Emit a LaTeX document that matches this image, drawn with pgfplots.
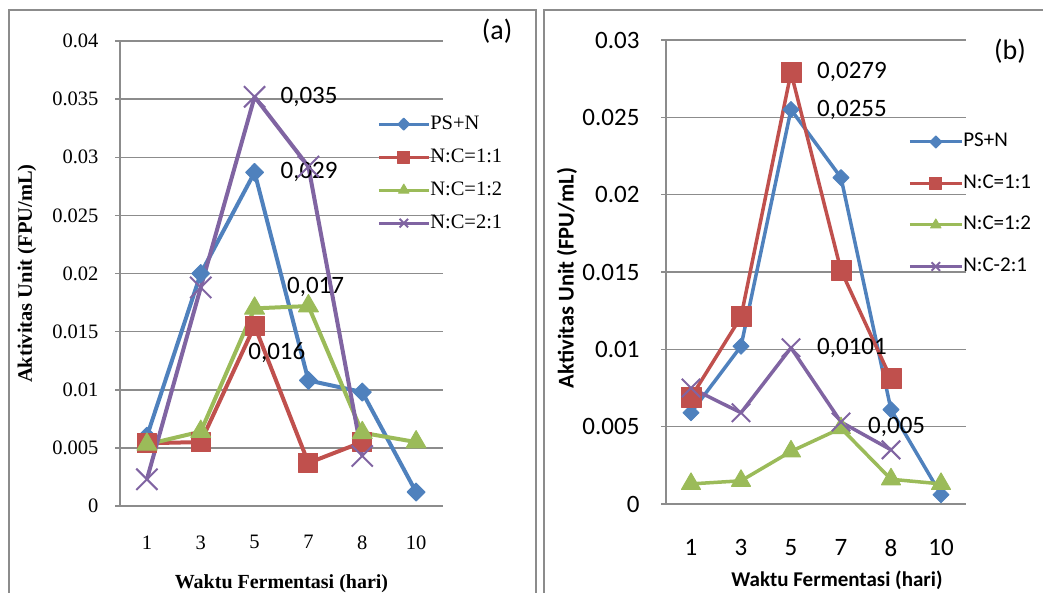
\documentclass[border=0pt]{standalone}
\usepackage{fontspec}
\setmainfont{Liberation Serif}
\newfontfamily\carl{Carlito}
\usepackage{pgfplots}
\pgfplotsset{compat=1.18}
\definecolor{cb}{HTML}{4F81BD}
\definecolor{cr}{HTML}{C0504D}
\definecolor{cg}{HTML}{9BBB59}
\definecolor{cp}{HTML}{8064A2}
\definecolor{gridc}{HTML}{8C8C8C}
\pgfplotsset{
 panel/.style={scale only axis, xmin=-0.5, xmax=5.5, ymin=0,
  xtick={0,1,2,3,4,5}, xticklabels={1,3,5,7,8,10},
  axis lines=left, axis line style={-, draw=gridc, line width=1.5pt},
  ymajorgrids, grid style={draw=gridc, line width=1.5pt},
  major x tick style={draw=none}, major y tick style={draw=gridc, line width=1.5pt},
  tick align=outside, major tick length=5pt, scaled y ticks=false,
  yticklabel style={/pgf/number format/fixed, /pgf/number format/precision=4},
  /pgf/number format/assume math mode=true, clip=false,
  legend cell align=left,
  every axis plot/.append style={line join=round},
 },
}
\begin{document}
\begin{tikzpicture}
\useasboundingbox (0,0) rectangle (1043pt,592pt);
\draw[gridc, line width=2.2pt] (9pt,-20pt) -- (9pt,582pt) -- (536pt,582pt) -- (536pt,-20pt);
\draw[gridc, line width=2.2pt] (544pt,-20pt) -- (544pt,582pt) -- (1070pt,582pt);
% ---------------- panel (a)
\begin{axis}[panel, at={(120pt,86pt)}, anchor=south west, width=323pt, height=465pt,
  ymax=0.04, ytick={0,0.005,0.01,0.015,0.02,0.025,0.03,0.035,0.04},
  tick label style={font=\fontsize{20.5}{22}\selectfont},
  yticklabel style={xshift=-13pt},
  xticklabel style={yshift=-21pt},
  xlabel={\bfseries Waktu Fermentasi (hari)},
  xlabel style={font=\fontsize{20}{22}\selectfont, at={(axis description cs:0.5,-0.166)}, anchor=center},
  ylabel={\bfseries Aktivitas Unit (FPU/mL)},
  ylabel style={font=\fontsize{20.5}{22}\selectfont, at={(axis description cs:-0.288,0.5)}, anchor=center},
  legend style={at={(0.796,0.841)}, anchor=north west, draw=none, fill=none, inner sep=0pt,
    font=\fontsize{20.5}{22}\selectfont, row sep=15pt,
    nodes={inner sep=0pt, text height=14pt, text depth=4pt},
    /tikz/every even column/.append style={column sep=5pt}},
  legend image code/.code={\draw[#1, line width=3pt, mark size=6pt, mark repeat=2, mark phase=2] plot coordinates {(0pt,0pt) (25pt,0pt) (50pt,0pt)};},
]
\addplot[cb, line width=4pt, mark=diamond*, mark size=9pt, mark options={xscale=1.33, line width=1pt, fill=cb}]
 coordinates {(0,0.0060) (1,0.0200) (2,0.0287) (3,0.0108) (4,0.0098) (5,0.0012)};
\addlegendentry{PS+N}
\addplot[cr, line width=4pt, mark=square*, mark size=9.5pt, mark options={line width=1pt, fill=cr}]
 coordinates {(0,0.0054) (1,0.0055) (2,0.0155) (3,0.0037) (4,0.0055)};
\addlegendentry{N:C=1:1}
\addplot[cg, line width=4pt, mark=triangle*, mark size=11.5pt, mark options={line width=1pt, fill=cg}]
 coordinates {(0,0.0053) (1,0.0064) (2,0.0170) (3,0.0172) (4,0.0063) (5,0.0055)};
\addlegendentry{N:C=1:2}
\addplot[cp, line width=4pt, mark=x, mark size=15pt, mark options={line width=2pt}]
 coordinates {(0,0.0023) (1,0.0188) (2,0.0352) (3,0.0292) (4,0.0043)};
\addlegendentry{N:C=2:1}
\begin{scope}[every node/.style={anchor=west, inner sep=0pt, font=\carl\fontsize{25}{27}\selectfont}]
\node at (axis cs:2.48,0.0352) {0,035};
\node at (axis cs:2.48,0.0287) {0,029};
\node at (axis cs:2.60,0.0188) {0,017};
\node at (axis cs:1.88,0.0132) {0,016};
\end{scope}
\node[anchor=east, inner sep=0pt, font=\carl\fontsize{28}{30}\selectfont] at (rel axis cs:1.215,1.02) {(a)};
\end{axis}
% ---------------- panel (b)
\begin{axis}[panel, at={(666pt,88pt)}, anchor=south west, width=300pt, height=464pt,
  ymax=0.03, ytick={0,0.005,0.01,0.015,0.02,0.025,0.03},
  tick label style={font=\carl\fontsize{25}{27}\selectfont},
  yticklabel style={xshift=-18pt},
  xticklabel style={yshift=-27pt},
  xlabel={\bfseries Waktu Fermentasi (hari)},
  xlabel style={font=\carl\fontsize{21}{23}\selectfont, at={(axis description cs:0.57,-0.164)}, anchor=center},
  ylabel={\bfseries Aktivitas Unit (FPU/mL)},
  ylabel style={font=\carl\fontsize{22.5}{24}\selectfont, at={(axis description cs:-0.33,0.487)}, anchor=center},
  legend style={at={(0.807,0.800)}, anchor=north west, draw=none, fill=none, inner sep=0pt,
    font=\carl\fontsize{21}{23}\selectfont, row sep=23.5pt,
    nodes={inner sep=0pt, text height=14pt, text depth=4pt},
    /tikz/every even column/.append style={column sep=6pt}},
  legend image code/.code={\draw[#1, line width=3pt, mark size=6pt, mark repeat=2, mark phase=2] plot coordinates {(0pt,0pt) (26pt,0pt) (52pt,0pt)};},
]
\addplot[cb, line width=3.5pt, mark=diamond*, mark size=8pt, mark options={xscale=1.33, line width=1pt, fill=cb}]
 coordinates {(0,0.0059) (1,0.0102) (2,0.0255) (3,0.0211) (4,0.0061) (5,0.0006)};
\addlegendentry{PS+N}
\addplot[cr, line width=3.5pt, mark=square*, mark size=10pt, mark options={line width=1pt, fill=cr}]
 coordinates {(0,0.0069) (1,0.0121) (2,0.0279) (3,0.0151) (4,0.0081)};
\addlegendentry{N:C=1:1}
\addplot[cg, line width=3.5pt, mark=triangle*, mark size=11pt, mark options={line width=1pt, fill=cg}]
 coordinates {(0,0.0013) (1,0.0015) (2,0.0034) (3,0.0049) (4,0.0016) (5,0.0013)};
\addlegendentry{N:C=1:2}
\addplot[cp, line width=3.5pt, mark=x, mark size=13pt, mark options={line width=2pt}]
 coordinates {(0,0.0075) (1,0.0059) (2,0.0101) (3,0.0053) (4,0.0035)};
\addlegendentry{N:C-2:1}
\begin{scope}[every node/.style={anchor=west, inner sep=0pt, font=\carl\fontsize{25}{27}\selectfont}]
\node at (axis cs:2.52,0.0279) {0,0279};
\node at (axis cs:2.52,0.0255) {0,0255};
\node at (axis cs:2.52,0.0101) {0,0101};
\node at (axis cs:3.54,0.0050) {0,005};
\end{scope}
\node[anchor=east, inner sep=0pt, font=\carl\fontsize{28}{30}\selectfont] at (rel axis cs:1.2,0.975) {(b)};
\end{axis}
\end{tikzpicture}
\end{document}
